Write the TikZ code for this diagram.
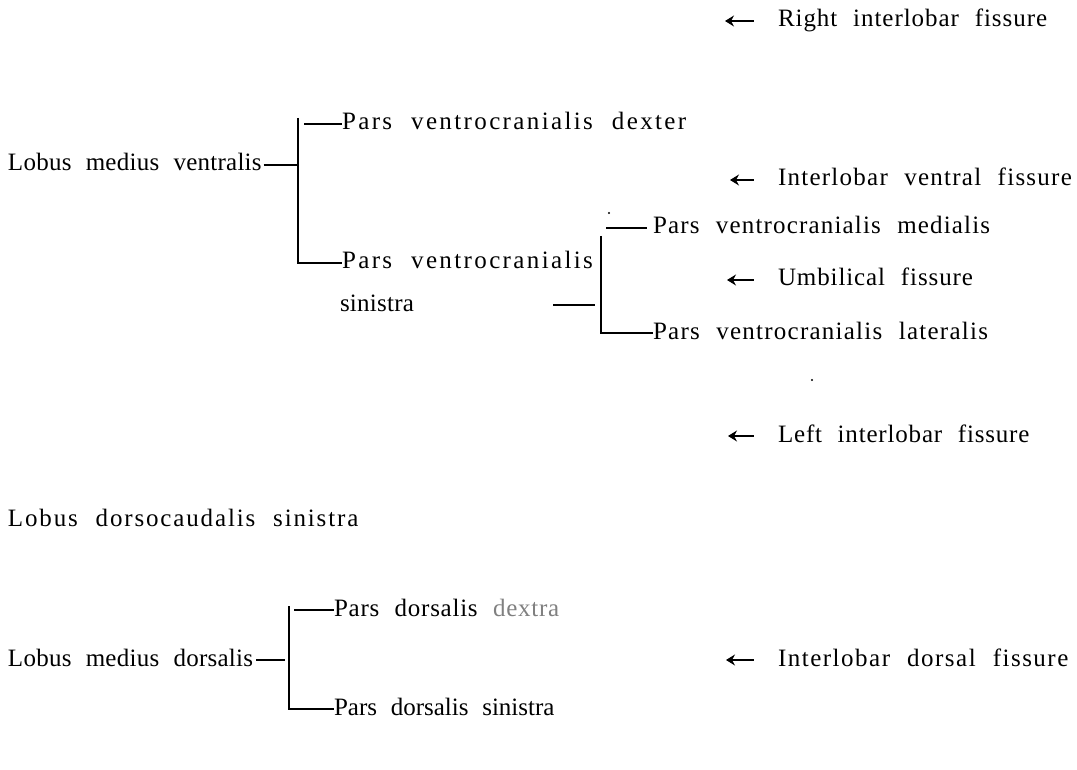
\documentclass[tikz,border=0pt]{standalone}
\usepackage{fontspec}
\setmainfont{Liberation Serif}[WordSpace=2.2]
\usetikzlibrary{arrows.meta}
\tikzset{
  lbl/.style={anchor=base west,inner sep=0pt,outer sep=0pt,
    font=\fontsize{25}{27}\selectfont\addfontfeature{LetterSpace=#1}},
  lbl/.default=4,
  rule/.style={line width=1.8pt},
  fis/.style={line width=1.4pt,{Stealth[length=9pt,width=11pt,inset=3pt]}-},
  speck/.style={fill=black,inner sep=0pt,minimum size=2.2pt,circle}
}
% the connector height of a label: 6pt above its baseline
\newcommand\lvl[1]{([yshift=6pt]#1.base west)}
\begin{document}
\begin{tikzpicture}[x=1pt,y=-1pt]
\useasboundingbox (0,0) rectangle (1077,770);

% fissures (right-hand column)
\node[lbl=3.8] (rif) at (778,27)  {Right interlobar fissure};
\node[lbl=5]   (ivf) at (778,186) {Interlobar ventral fissure};
\node[lbl=3.6] (umf) at (778,286) {Umbilical fissure};
\node[lbl=3.3] (lif) at (778,442) {Left interlobar fissure};
\node[lbl=6]   (idf) at (778,666) {Interlobar dorsal fissure};
\coordinate (rifa) at (725,21);
\coordinate (ivfa) at (730,180);
\coordinate (umfa) at (727,280);
\coordinate (lifa) at (728,436);
\coordinate (idfa) at (726,660);
\foreach \n in {rif,ivf,umf,lif,idf}
  \draw[fis] (\n a) -- ([xshift=-24pt,yshift=6pt]\n.base west);

% ventral middle lobe
\node[lbl=1]   (lmv)  at (8,171)   {Lobus medius ventralis};
\node[lbl=9.5] (pvd)  at (342,130) {Pars ventrocranialis dexter};
\node[lbl=9.5] (pvs)  at (342,269) {Pars ventrocranialis};
\node[lbl=1]   (pvs2) at (340,312) {sinistra};
\node[lbl=4.7] (pvm)  at (653,234) {Pars ventrocranialis medialis};
\node[lbl=5]   (pvl)  at (653,339) {Pars ventrocranialis lateralis};

\coordinate (b1t) at (298,118);
\coordinate (b1b) at (298,263);
\draw[rule] (b1t) -- (b1b) -- \lvl{pvs};
\draw[rule] ([xshift=2pt,yshift=6pt]lmv.base east) -- (b1t |- 0,165);
\draw[rule] (304,124) -- \lvl{pvd};

\coordinate (b2t) at (601,236);
\coordinate (b2b) at (601,333);
\draw[rule] (b2t) -- (b2b) -- \lvl{pvl};
\draw[rule] (606,228) -- ([xshift=-6pt,yshift=6pt]pvm.base west);
\coordinate (b2l) at (553,305);
\draw[rule] (b2l) -- (595,305);
\node[speck] (s1) at (609,213) {};
\node[speck] (s2) at (812,380) {};

% left dorsocaudal lobe
\node[lbl=7.4] (lds) at (8,526) {Lobus dorsocaudalis sinistra};

% dorsal middle lobe
\node[lbl=1] (lmd) at (8,666)   {Lobus medius dorsalis};
\node[lbl=3] (pdd) at (334,616) {Pars dorsalis \textcolor{black!50}{dextra}};
\node[lbl=0] (pds) at (334,715) {Pars dorsalis sinistra};
\coordinate (b3t) at (289,606);
\coordinate (b3b) at (289,709);
\draw[rule] (b3t) -- (b3b) -- \lvl{pds};
\draw[rule] ([xshift=3pt,yshift=6pt]lmd.base east) -- (285,660);
\draw[rule] (294,610) -- \lvl{pdd};
\end{tikzpicture}
\end{document}
